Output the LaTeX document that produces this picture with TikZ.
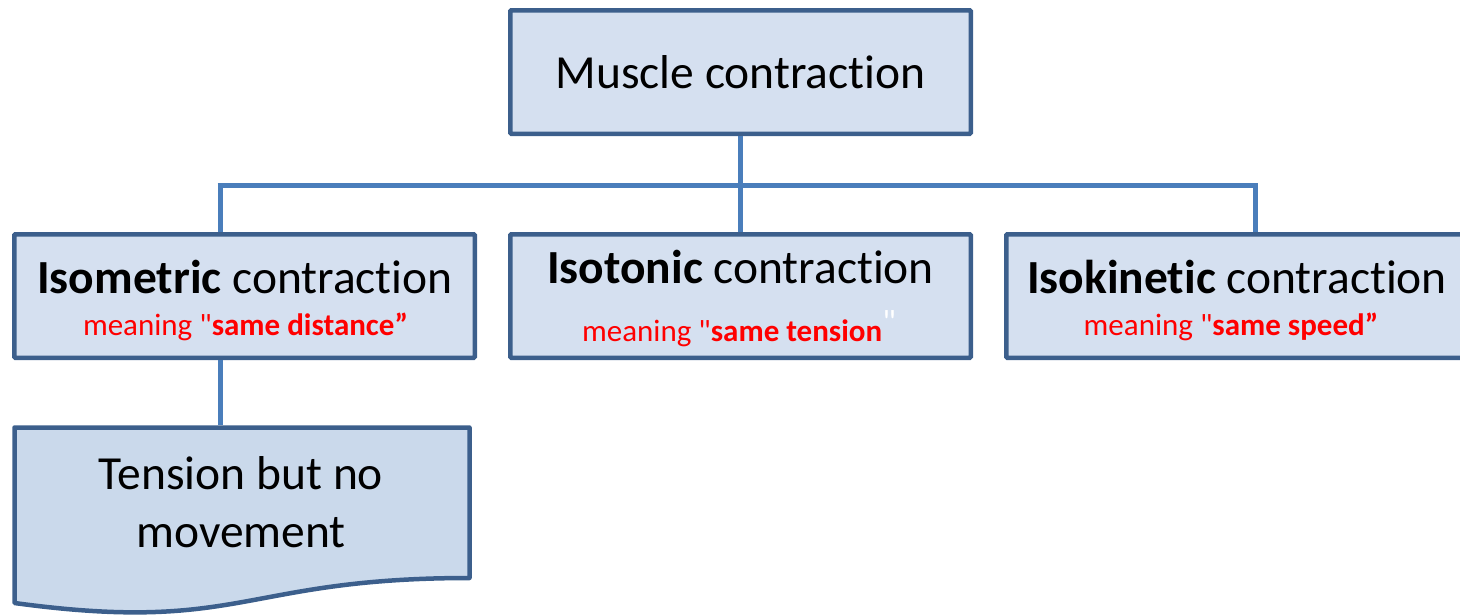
\documentclass[tikz,border=0pt]{standalone}
\usepackage{fontspec}
\setmainfont{Carlito}[Ligatures={NoCommon,TeXOff}]
\definecolor{boxfill}{RGB}{213,224,240}
\definecolor{docfill}{RGB}{202,217,235}
\definecolor{boxline}{RGB}{60,95,140}
\definecolor{wireblue}{RGB}{74,126,187}
\definecolor{meanred}{RGB}{255,0,0}
\newcommand{\mainsz}{\fontsize{47.5}{56}\selectfont}
\newcommand{\redsz}{\fontsize{31}{37}\selectfont}
\begin{document}
\begin{tikzpicture}[x=1pt,y=-1pt,
  box/.style={draw=boxline, fill=boxfill, line width=4.5pt, rounded corners=1pt,
    minimum width=460.5pt, minimum height=123.5pt, inner sep=0pt},
  wire/.style={draw=wireblue, line width=5pt},
  label/.style={anchor=base, inner sep=0pt, font=\mainsz},
  meaning/.style={anchor=base, inner sep=0pt, font=\redsz, text=meanred}]
\useasboundingbox (0,0) rectangle (1460,614);

% boxes
\node[box] (top) at (740.5,72) {};
\node[box] (iso) at (244.5,296) {};
\node[box] (ton) at (740.5,296) {};
\node[box] (kin) at (1236.5,296) {};

% document-shaped box below the isometric box
\draw[draw=boxline, fill=docfill, line width=4.5pt, line join=round]
  (14.5,427.5) -- (469.5,427.5) -- (469.5,578)
  .. controls (242,578) and (242,634) .. (14.5,603) -- cycle;

% connectors
\coordinate (busL) at (220,185);
\coordinate (busR) at (1255,185);
\coordinate (docTop) at (220,425);
\draw[wire] (top.south) -- (ton.north);
\draw[wire] ([xshift=-2.5pt]busL) -- ([xshift=2.5pt]busR);
\draw[wire] (busL) -- (busL |- iso.north);
\draw[wire] (busR) -- (busR |- kin.north);
\draw[wire] (busL |- iso.south) -- (docTop);

% texts
\node[label] (tTop) at (740.5,88) {Muscle contraction};
\node[label] (tIso) at (245,293) {\textbf{Isometric} contraction};
\node[meaning] (mIso) at (245.5,335) {meaning "\textbf{same distance”}};
\node[label] (tTon) at (740.5,283) {\textbf{Isotonic} contraction};
\node[meaning] (mTon) at (739,341) {meaning "\textbf{same tension}\raisebox{8pt}{\textcolor{white}{\fontsize{34}{40}\selectfont"}}};
\node[label] (tKin) at (1237,293) {\textbf{Isokinetic} contraction};
\node[meaning] (mKin) at (1231,335) {meaning "\textbf{same speed”}};
\node[label] (tDoc1) at (241,489) {Tension but no};
\node[label] (tDoc2) at (241,547) {movement};
\end{tikzpicture}
\end{document}
